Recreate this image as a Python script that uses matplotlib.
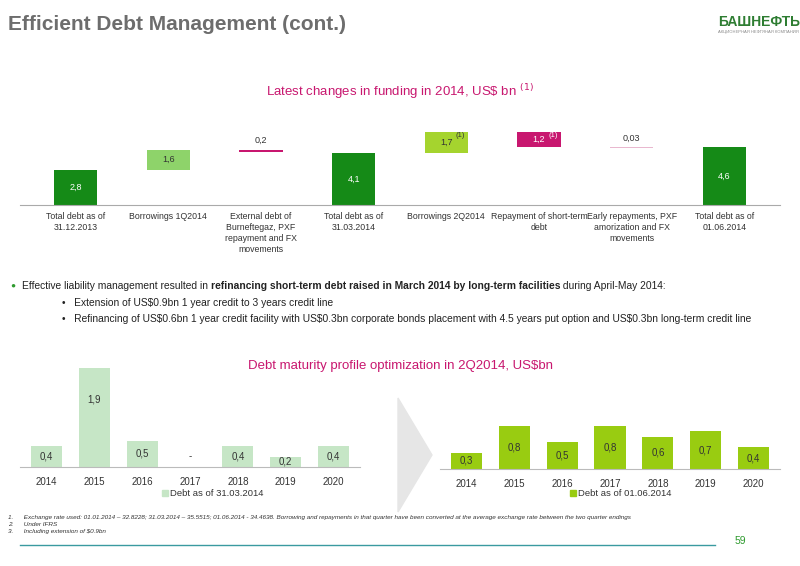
import matplotlib
matplotlib.use("Agg")
import matplotlib.pyplot as plt
from matplotlib.patches import Polygon, Rectangle

plt.rcParams['font.family'] = ['Liberation Sans', 'DejaVu Sans']

# ---- data ----
wf_labels = ["Total debt as of\n31.12.2013", "Borrowings 1Q2014", "External debt of\nBurneftegaz, PXF\nrepayment and FX\nmovements",
             "Total debt as of\n31.03.2014", "Borrowings 2Q2014", "Repayment of short-term\ndebt",
             "Early repayments, PXF\namorization and FX\nmovements", "Total debt as of\n01.06.2014"]
wf_bottoms = [0, 2.8, 4.2, 0, 4.1, 4.6, 4.57, 0]
wf_heights = [2.8, 1.6, 0.2, 4.1, 1.7, 1.2, 0.03, 4.6]
wf_text = ["2,8", "1,6", "0,2", "4,1", "1,7", "1,2", "0,03", "4,6"]
wf_sup = ["", "", "", "", "(1)", "(1)", "", ""]

years = ["2014", "2015", "2016", "2017", "2018", "2019", "2020"]
debt_0331 = [0.4, 1.9, 0.5, 0.0, 0.4, 0.2, 0.4]
debt_0601 = [0.3, 0.8, 0.5, 0.8, 0.6, 0.7, 0.4]

DG = "#158a17"; LG = "#8ed36a"; LIME = "#a5d42e"; PINK = "#c8176f"; LPINK = "#e9b8cf"
wf_colors = [DG, LG, PINK, DG, LIME, PINK, LPINK, DG]
wf_txtcol = ["white", "#333333", "#333333", "white", "#333333", "white", "#333333", "white"]

W, H = 800, 566
fig = plt.figure(figsize=(8, 5.66), dpi=100)

def fy(y):
    return 1 - y / H

# header
fig.text(8 / W, fy(24), "Efficient Debt Management (cont.)", fontsize=15, fontweight='bold', color="#6d6d6d", va='center')
fig.text(718 / W, fy(22), "БАШНЕФТЬ", fontsize=10, fontweight='bold', color="#2e7d32", va='center')
fig.text(718 / W, fy(32), "АКЦИОНЕРНАЯ НЕФТЯНАЯ КОМПАНИЯ", fontsize=3, color="#888888", va='center')
fig.text(400 / W, fy(92), "Latest changes in funding in 2014, US\\$ bn $^{(1)}$", fontsize=9.5, color="#c8176f", ha='center', va='center')

# waterfall
ax = fig.add_axes([20 / W, fy(205), 760 / W, 78 / H])
x = list(range(len(wf_heights)))
ax.bar(x, wf_heights, bottom=wf_bottoms, color=wf_colors, width=0.47)
for i in x:
    h = wf_heights[i]; b = wf_bottoms[i]
    if h < 0.3:
        ax.text(i, b + h + 0.35, wf_text[i], ha='center', va='bottom', fontsize=6.5, color="#333333")
    else:
        ax.text(i, b + h / 2, wf_text[i], ha='center', va='center', fontsize=6.5, color=wf_txtcol[i])
    if wf_sup[i]:
        ax.text(i + 0.1, b + h - 0.25, wf_sup[i], ha='left', va='center', fontsize=5.5, color=wf_txtcol[i])
ax.set_ylim(0, 6.2)
ax.set_xlim(-0.6, 7.6)
ax.set_yticks([])
ax.set_xticks(x)
ax.set_xticklabels(wf_labels, fontsize=6.3, color="#333333", va='top', linespacing=1.3)
ax.tick_params(axis='x', length=0, pad=5)
for s in ['top', 'right', 'left']:
    ax.spines[s].set_visible(False)
ax.spines['bottom'].set_color("#aaaaaa")

# bullets
fig.text(10 / W, fy(286), "●", fontsize=6, color="#2e9a2e", va='center')
fs = 7.4
parts = [("Effective liability management resulted in ", 'normal'),
         ("refinancing short-term debt raised in March 2014 by long-term facilities", 'bold'),
         (" during April-May 2014:", 'normal')]
fig.canvas.draw()
r = fig.canvas.get_renderer()
xpos = 22
for s, wgt in parts:
    t = fig.text(xpos / W, fy(286), s, fontsize=fs, fontweight=wgt, color="#222222", va='center')
    xpos += t.get_window_extent(r).width
fig.text(62 / W, fy(303), "•   Extension of US$0.9bn 1 year credit to 3 years credit line", fontsize=fs, color="#222222", va='center')
fig.text(62 / W, fy(319), "•   Refinancing of US$0.6bn 1 year credit facility with US$0.3bn corporate bonds placement with 4.5 years put option and US$0.3bn long-term credit line",
         fontsize=fs, color="#222222", va='center')

fig.text(400 / W, fy(366), "Debt maturity profile optimization in 2Q2014, US$bn", fontsize=9.5, color="#c8176f", ha='center', va='center')

def lab_y(v):
    return v - min(v / 2, 0.6)

def mat(rect, vals, col, legend, lx):
    a = fig.add_axes(rect)
    xs = list(range(len(vals)))
    a.bar(xs, vals, color=col, width=0.65)
    for i, v in zip(xs, vals):
        if v == 0:
            a.text(i, 0.2, "-", ha='center', va='center', fontsize=7, color="#333333")
        else:
            a.text(i, lab_y(v), f"{v:.1f}".replace('.', ','), ha='center', va='center', fontsize=7, color="#333333")
    a.set_ylim(0, 2.0)
    a.set_xlim(-0.55, 6.55)
    a.set_yticks([])
    a.set_xticks(xs)
    a.set_xticklabels(years, fontsize=7, color="#333333")
    a.tick_params(axis='x', length=0, pad=7)
    for s in ['top', 'right', 'left']:
        a.spines[s].set_visible(False)
    a.spines['bottom'].set_color("#bbbbbb")
    fig.patches.append(Rectangle(((lx - 8) / W, fy(496)), 6 / W, 6 / H, transform=fig.transFigure, color=col))
    fig.text(lx / W, fy(493), legend, fontsize=6.8, color="#333333", va='center')

mat([20 / W, fy(467), 340 / W, 104 / H], debt_0331, "#c6e6c6", "Debt as of 31.03.2014", 170)
mat([440 / W, fy(469), 340 / W, 108 / H], debt_0601, "#99cc11", "Debt as of 01.06.2014", 578)

# arrow
fig.patches.append(Polygon([(398 / W, fy(398)), (432 / W, fy(455)), (398 / W, fy(512))],
                           closed=True, transform=fig.transFigure, color="#e6e6e6"))

# footnotes
notes = ["1.      Exchange rate used: 01.01.2014 – 32.8228; 31.03.2014 – 35.5515; 01.06.2014 - 34.4638. Borrowing and repayments in that quarter have been converted at the average exchange rate between the two quarter endings",
         "2.      Under IFRS", "3.      Including extension of $0.9bn"]
for k, n in enumerate(notes):
    fig.text(8 / W, fy(517 + 7.5 * k), n, fontsize=4.6, style='italic', color="#333333", va='center')
fig.add_artist(plt.Line2D([20 / W, 715 / W], [fy(545), fy(545)], color="#3a9aa0", lw=1))
fig.text(740 / W, fy(541), "59", fontsize=7.5, color="#2e9a2e", va='center', ha='center')

fig.savefig("out.png", dpi=100)
